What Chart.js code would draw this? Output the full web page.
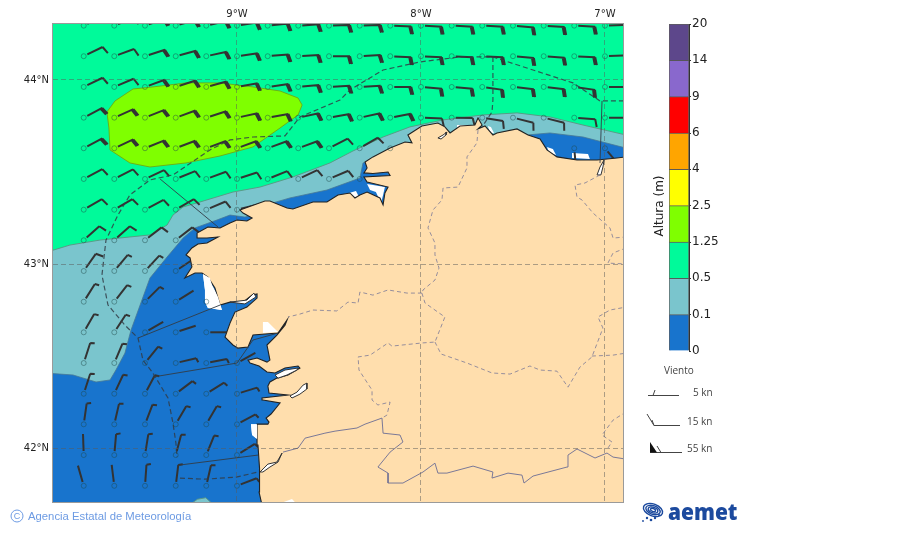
<!DOCTYPE html>
<html>
<head>
<meta charset="utf-8">
<title>Altura de ola</title>
<script src="https://cdn.jsdelivr.net/npm/chart.js@4"></script>
<style>
  html, body { margin: 0; padding: 0; background: #fff; overflow: hidden; }
  #map { position: absolute; left: 0; top: 0; }
  #bar { position: absolute; left: 640px; top: 10px; }
</style>
</head>
<body>
<canvas id="map" width="900" height="533"></canvas>
<canvas id="bar" width="100" height="360"></canvas>
<script>
// axis ticks
const lonTicks = [-9, -8, -7]
const latTicks = [42, 43, 44]

// colour bar
const bandTicks = ['0', '0.1', '0.5', '1.25', '2.5', '4', '6', '9', '14', '20']
const bandColors = ['#1874CD', '#7AC5CD', '#00FA9A', '#7FFF00', '#FFFF00', '#FFA500', '#FF0000', '#8968CD', '#5D478B']

// wave height areas, [lon, lat]
const areaHigh = [[-9.707,43.826],[-9.663,43.886],[-9.565,43.951],[-9.457,43.962],[-9.277,43.984],[-9.092,43.984],[-8.913,43.962],[-8.766,43.940],[-8.668,43.902],[-8.646,43.864],[-8.668,43.810],[-8.766,43.739],[-8.913,43.636],[-9.092,43.587],[-9.277,43.549],[-9.473,43.527],[-9.582,43.549],[-9.690,43.620],[-9.696,43.739]]
const areaTeal = [[-10.05,43.06],[-9.908,43.103],[-9.745,43.130],[-9.582,43.147],[-9.473,43.158],[-9.380,43.212],[-9.348,43.266],[-9.293,43.310],[-9.201,43.337],[-9.022,43.391],[-8.875,43.418],[-8.696,43.473],[-8.495,43.549],[-8.370,43.614],[-8.206,43.690],[-8.060,43.745],[-7.880,43.783],[-7.663,43.810],[-7.478,43.821],[-7.299,43.799],[-7.119,43.755],[-6.886,43.701],[-6.886,41.6],[-10.05,41.6]]
const areaTealSouth = [[-9.26,41.69],[-9.215,41.722],[-9.17,41.73],[-9.125,41.69]]
const areaBlue = [[-10.05,42.408],[-9.891,42.397],[-9.766,42.359],[-9.690,42.370],[-9.658,42.424],[-9.609,42.516],[-9.576,42.641],[-9.473,42.924],[-9.380,43.038],[-9.293,43.141],[-9.228,43.196],[-9.109,43.239],[-9.038,43.266],[-8.957,43.255],[-8.864,43.277],[-8.804,43.332],[-8.712,43.359],[-8.511,43.402],[-8.332,43.467],[-8.315,43.549],[-8.266,43.565],[-8.005,43.348],[-8.005,41.6],[-10.05,41.6]]
const areaBlueEast = [[-7.424,43.701],[-7.299,43.712],[-7.119,43.690],[-6.886,43.630],[-6.886,43.511],[-7.424,43.511]]

// coast, from the south end going north and then east
const land = [[-8.864,41.690],[-8.880,41.761],[-8.880,41.826],[-8.875,41.891],[-8.886,42.016],[-8.891,42.130],[-8.832,42.130],[-8.826,42.141],[-8.842,42.163],[-8.815,42.185],[-8.766,42.245],[-8.859,42.261],[-8.864,42.272],[-8.723,42.288],[-8.826,42.299],[-8.832,42.337],[-8.821,42.359],[-8.783,42.380],[-8.723,42.397],[-8.658,42.435],[-8.668,42.446],[-8.739,42.435],[-8.793,42.408],[-8.837,42.413],[-8.880,42.446],[-8.929,42.462],[-8.940,42.478],[-8.891,42.489],[-8.837,42.467],[-8.821,42.478],[-8.837,42.560],[-8.783,42.614],[-8.739,42.668],[-8.728,42.696],[-8.777,42.625],[-8.913,42.614],[-8.940,42.549],[-8.995,42.543],[-9.022,42.560],[-9.065,42.603],[-9.038,42.679],[-9.011,42.739],[-8.946,42.766],[-8.891,42.815],[-8.891,42.837],[-8.918,42.831],[-8.967,42.793],[-9.038,42.793],[-9.092,42.777],[-9.120,42.870],[-9.158,42.929],[-9.190,42.951],[-9.228,42.951],[-9.283,42.924],[-9.245,42.984],[-9.255,43.033],[-9.277,43.049],[-9.245,43.087],[-9.212,43.109],[-9.163,43.114],[-9.103,43.147],[-9.163,43.141],[-9.212,43.141],[-9.217,43.168],[-9.158,43.201],[-9.092,43.196],[-9.038,43.223],[-9,43.239],[-8.946,43.234],[-8.918,43.250],[-8.967,43.277],[-8.984,43.293],[-8.848,43.342],[-8.821,43.342],[-8.728,43.304],[-8.696,43.299],[-8.587,43.337],[-8.511,43.337],[-8.451,43.375],[-8.386,43.386],[-8.359,43.359],[-8.332,43.375],[-8.293,43.391],[-8.223,43.359],[-8.206,43.321],[-8.196,43.386],[-8.179,43.418],[-8.293,43.446],[-8.310,43.473],[-8.168,43.481],[-8.179,43.500],[-8.261,43.492],[-8.310,43.495],[-8.293,43.522],[-8.304,43.554],[-8.261,43.582],[-8.168,43.630],[-8.087,43.663],[-8.049,43.658],[-8.071,43.701],[-7.995,43.750],[-7.908,43.766],[-7.870,43.745],[-7.842,43.712],[-7.788,43.750],[-7.707,43.755],[-7.690,43.793],[-7.668,43.755],[-7.690,43.734],[-7.652,43.750],[-7.609,43.701],[-7.587,43.712],[-7.478,43.734],[-7.418,43.701],[-7.353,43.679],[-7.315,43.620],[-7.261,43.582],[-7.152,43.565],[-7.043,43.565],[-6.935,43.576],[-6.886,43.582],[-6.85,43.582],[-6.85,41.690]]

// no data patches along the coast
const blankPatches = [
  [[-9.185,42.946],[-9.147,42.924],[-9.136,42.886],[-9.103,42.821],[-9.082,42.750],[-9.158,42.761],[-9.174,42.793],[-9.174,42.859]],
  [[-8.924,42.130],[-8.891,42.130],[-8.891,42.049],[-8.918,42.071]],
  [[-8.859,42.685],[-8.832,42.685],[-8.777,42.630],[-8.859,42.625]],
  [[-7.315,43.636],[-7.283,43.625],[-7.266,43.592],[-7.304,43.603]],
  [[-7.179,43.603],[-7.092,43.598],[-7.082,43.571],[-7.174,43.576]],
  [[-8.391,43.386],[-8.353,43.397],[-8.337,43.364],[-8.370,43.364]],
  [[-7.967,43.750],[-7.935,43.745],[-7.929,43.728],[-7.967,43.728]],
  [[-7.804,43.755],[-7.750,43.755],[-7.750,43.739],[-7.799,43.734]],
  [[-7.636,43.750],[-7.620,43.745],[-7.603,43.712],[-7.625,43.712]],
  [[-8.293,43.435],[-8.196,43.418],[-8.206,43.375],[-8.217,43.332],[-8.245,43.391],[-8.277,43.402]],
  [[-8.766,41.70],[-8.701,41.723],[-8.679,41.70]]
]
const inletPatches = [
  [[-9.038,42.793],[-8.957,42.783],[-8.897,42.821],[-8.908,42.842],[-8.946,42.804]],
  [[-8.793,42.397],[-8.739,42.424],[-8.668,42.435],[-8.674,42.424],[-8.728,42.397],[-8.777,42.380]],
  [[-8.712,42.283],[-8.674,42.304],[-8.641,42.342],[-8.620,42.353],[-8.620,42.321],[-8.658,42.293],[-8.701,42.272]],
  [[-8.875,41.870],[-8.832,41.913],[-8.783,41.924],[-8.755,41.973],[-8.777,41.924],[-8.821,41.897],[-8.859,41.870]],
  [[-7.043,43.484],[-7.027,43.527],[-7.005,43.565],[-7.011,43.527],[-7.022,43.484]],
  [[-7.908,43.685],[-7.880,43.701],[-7.859,43.717],[-7.864,43.701],[-7.891,43.679]]
]

// land borders
const provinceLines = [
  [[-7.690,43.728],[-7.696,43.658],[-7.750,43.582],[-7.750,43.522],[-7.799,43.418],[-7.880,43.413],[-7.886,43.348],[-7.935,43.293],[-7.962,43.196],[-7.924,43.114],[-7.924,43.049],[-7.902,42.978],[-7.924,42.913],[-7.989,42.859],[-7.995,42.842]],
  [[-7.995,42.842],[-8.076,42.842],[-8.179,42.859],[-8.261,42.831],[-8.332,42.848],[-8.342,42.788],[-8.397,42.793],[-8.457,42.745],[-8.587,42.750],[-8.658,42.728],[-8.723,42.712]],
  [[-7.995,42.842],[-7.978,42.788],[-7.870,42.712],[-7.924,42.576],[-7.995,42.571],[-8.158,42.554],[-8.179,42.571],[-8.277,42.505],[-8.342,42.495],[-8.337,42.424],[-8.266,42.315],[-8.266,42.261],[-8.234,42.234],[-8.168,42.250],[-8.185,42.179],[-8.212,42.163]],
  [[-7.924,42.576],[-7.891,42.511],[-7.750,42.462],[-7.614,42.408],[-7.516,42.402],[-7.408,42.446],[-7.353,42.424],[-7.261,42.418],[-7.201,42.331],[-7.136,42.440],[-7.071,42.495],[-7.011,42.652],[-7.038,42.712],[-6.973,42.750],[-6.886,42.766]],
  [[-7.071,42.500],[-6.956,42.505],[-6.886,42.516]],
  [[-7.027,43.484],[-7.109,43.440],[-7.163,43.429],[-7.152,43.364],[-7.125,43.348],[-7.065,43.277],[-6.973,43.196],[-6.956,43.141],[-6.886,43.147]],
  [[-6.886,43.087],[-6.956,43.060],[-6.984,43.005],[-6.886,43.000]],
  [[-6.886,42.196],[-6.956,42.152],[-7.016,42.071],[-6.962,42.033],[-6.984,42.000]]
]
const portugalLine = [[-8.750,41.978],[-8.668,42.000],[-8.630,42.054],[-8.522,42.081],[-8.467,42.092],[-8.348,42.109],[-8.304,42.130],[-8.212,42.163],[-8.206,42.081],[-8.114,42.071],[-8.098,42.033],[-8.168,41.978],[-8.234,41.897],[-8.179,41.864],[-8.179,41.810],[-8.098,41.810],[-7.989,41.870],[-7.924,41.918],[-7.908,41.864],[-7.859,41.864],[-7.717,41.902],[-7.609,41.870],[-7.614,41.837],[-7.527,41.864],[-7.451,41.853],[-7.440,41.810],[-7.391,41.848],[-7.206,41.897],[-7.201,41.962],[-7.152,41.995],[-7.054,41.946],[-6.989,41.973],[-6.956,41.951],[-6.886,41.940]]

// sea zone limits
const zoneDashed = [
  [[-6.897,43.886],[-7.027,43.886],[-7.174,43.984],[-7.391,44.054],[-7.609,44.125],[-7.788,44.125],[-8.005,44.098],[-8.206,44.054],[-8.386,43.946],[-8.440,43.891],[-8.658,43.799],[-8.739,43.696],[-8.913,43.690],[-9.038,43.674],[-9.147,43.620],[-9.348,43.484],[-9.473,43.457],[-9.582,43.375],[-9.647,43.266],[-9.712,43.130],[-9.734,42.940],[-9.701,42.777],[-9.609,42.668],[-9.538,42.598],[-9.511,42.478],[-9.457,42.408],[-9.375,42.272],[-9.348,42.136],[-9.332,42.027],[-9.326,41.951]],
  [[-9.310,41.837],[-9.174,41.831],[-9.005,41.842],[-8.886,41.870]],
  [[-7.609,44.125],[-7.609,43.891],[-7.614,43.826],[-7.668,43.745]]
]
const zoneSolid = [
  [[-7.016,43.886],[-7.027,43.549]],
  [[-9.418,43.462],[-9.103,43.201]],
  [[-9.538,42.598],[-9.092,42.777]],
  [[-9.457,42.386],[-9,42.462],[-8.913,42.587],[-8.777,42.625]],
  [[-9.310,41.908],[-8.886,41.962]]
]

// wind grid. angle in degrees from east, speed in knots
// null angle: land, null speed: only the station circle
const windLons = [-9.833,-9.667,-9.5,-9.333,-9.167,-9,-8.833,-8.667,-8.5,-8.333,-8.167,-8,-7.833,-7.667,-7.5,-7.333,-7.167,-7]
const windLats = [44.295,44.129,43.962,43.795,43.629,43.462,43.295,43.129,42.962,42.795,42.629,42.462,42.295,42.129,41.962,41.795]
const _ = null
const windAngle = [
  [26,22,19,16,13,9,6,4,2,2,-2,-3,-3,-3,-5,-4,-3,2],
  [26,20,18,15,12,8,5,3,0,3,-3,-3,-3,-3,-5,-4,-3,2],
  [26,23,20,18,15,10,8,5,3,3,0,-5,-5,-8,-6,-6,-8,0],
  [28,24,22,20,18,12,10,12,10,12,11,-2,-1,-9,-14,-14,-4,0],
  [28,25,22,21,20,20,20,20,27,30,20,_,_,_,_,_,-85,-50],
  [28,27,25,22,20,18,22,25,23,20,_,_,_,_,_,_,_,_],
  [30,30,28,30,23,14,_,_,_,_,_,_,_,_,_,_,_,_],
  [42,42,38,38,_,_,_,_,_,_,_,_,_,_,_,_,_,_],
  [55,50,47,34,_,_,_,_,_,_,_,_,_,_,_,_,_,_],
  [58,52,45,32,20,_,_,_,_,_,_,_,_,_,_,_,_,_],
  [60,57,30,18,0,_,_,_,_,_,_,_,_,_,_,_,_,_],
  [72,67,51,13,11,29,_,_,_,_,_,_,_,_,_,_,_,_],
  [72,65,62,37,32,17,_,_,_,_,_,_,_,_,_,_,_,_],
  [82,77,69,60,60,28,_,_,_,_,_,_,_,_,_,_,_,_],
  [92,85,81,75,68,32,_,_,_,_,_,_,_,_,_,_,_,_],
  [106,97,86,83,77,21,_,_,_,_,_,_,_,_,_,_,_,_]
]
const windSpeed = [
  [10,10,15,15,15,15,15,15,15,15,15,15,15,15,15,15,15,15],
  [10,10,15,15,15,15,15,15,15,15,15,15,15,15,15,15,15,15],
  [10,10,15,15,15,15,15,15,15,15,15,15,15,15,15,15,15,15],
  [15,15,15,15,15,15,15,15,15,15,15,10,10,10,10,10,10,10],
  [15,15,15,15,15,15,15,15,10,10,_,_,_,_,_,_,0,0],
  [10,10,10,10,10,10,10,10,10,_,_,_,_,_,_,_,_,_],
  [10,10,10,10,10,0,_,_,_,_,_,_,_,_,_,_,_,_],
  [10,10,10,10,_,_,_,_,_,_,_,_,_,_,_,_,_,_],
  [10,5,5,0,_,_,_,_,_,_,_,_,_,_,_,_,_,_],
  [5,5,5,0,_,_,_,_,_,_,_,_,_,_,_,_,_,_],
  [5,5,0,0,0,_,_,_,_,_,_,_,_,_,_,_,_,_],
  [5,5,5,5,5,0,_,_,_,_,_,_,_,_,_,_,_,_],
  [5,5,5,5,5,5,_,_,_,_,_,_,_,_,_,_,_,_],
  [5,5,5,5,5,5,_,_,_,_,_,_,_,_,_,_,_,_],
  [0,5,5,5,5,5,_,_,_,_,_,_,_,_,_,_,_,_],
  [0,0,5,5,5,5,_,_,_,_,_,_,_,_,_,_,_,_]
]

const lonMin = -10, lonMax = -6.902, latMin = 41.707, latMax = 44.304

function toPoints(list){
    return list.concat([list[0]]).map(p => ({x: p[0], y: p[1]}))
}
function toLine(list){
    return list.map(p => ({x: p[0], y: p[1]}))
}

let datasets = []

function addArea(list, color, edge, width){
    datasets.push({
        data: toPoints(list), showLine: true, pointRadius: 0, tension: 0,
        fill: 'shape', backgroundColor: color, borderColor: edge, borderWidth: width
    })
}
function addLine(list, color, width, dash){
    datasets.push({
        data: toLine(list), showLine: true, pointRadius: 0, tension: 0,
        fill: false, borderColor: color, borderWidth: width, borderDash: dash
    })
}

// sea background is the 0.5 - 1.25 band
addArea([[lonMin-1,latMin-1],[lonMax+1,latMin-1],[lonMax+1,latMax+1],[lonMin-1,latMax+1]], bandColors[2], bandColors[2], 0)
addArea(areaHigh, bandColors[3], 'rgba(110,170,20,0.9)', 1)
addArea(areaTeal, bandColors[1], 'rgba(90,150,130,0.9)', 1)
addArea(areaBlue, bandColors[0], 'rgba(70,120,150,0.8)', 1)
addArea(areaTealSouth, bandColors[1], 'rgba(90,150,130,0.9)', 1)
addArea(areaBlueEast, bandColors[0], 'rgba(70,120,150,0.8)', 1)
blankPatches.forEach(p => addArea(p, '#fff', '#fff', 0))
// wind barbs go under the land, see windBarbs
const barbsAfter = datasets.length - 1
addArea(land, '#FFDEAD', '#222', 1.1)
blankPatches.slice(-1).forEach(p => addArea(p, '#fff', '#fff', 0))
inletPatches.forEach(p => addArea(p, '#fff', '#333', 1))
blankPatches.slice(0, 3).forEach(p => addArea(p, '#fff', '#fff', 0))
provinceLines.forEach(l => addLine(l, 'rgba(115,115,150,0.75)', 1, [4, 3]))
addLine(portugalLine, 'rgba(115,115,150,0.95)', 1, [])
zoneDashed.forEach(l => addLine(l, 'rgba(50,60,70,0.85)', 1.2, [5, 3]))
zoneSolid.forEach(l => addLine(l, 'rgba(50,60,70,0.9)', 1, []))

// station circles
let stations = []
windLats.forEach((lat, r) => {
    windLons.forEach((lon, c) => {
        if(windAngle[r][c] !== null){
            stations.push({x: lon, y: lat})
        }
    })
})
datasets.push({
    data: stations, showLine: false, pointRadius: 2.5, pointBorderWidth: 0.9,
    pointBackgroundColor: 'rgba(0,0,0,0)', pointBorderColor: 'rgba(30,70,70,0.5)'
})

// first dataset in the list goes at the bottom
datasets.forEach((d, i) => { d.order = datasets.length - i })

const windBarbs = {
    id: 'windBarbs',
    afterDatasetDraw(chart, args){
        if(args.index !== barbsAfter) return
        const { ctx, chartArea, scales } = chart
        ctx.save()
        ctx.beginPath()
        ctx.rect(chartArea.left, chartArea.top, chartArea.width, chartArea.height)
        ctx.clip()
        ctx.strokeStyle = '#333'
        ctx.lineWidth = 2
        ctx.lineCap = 'butt'
        windLats.forEach((lat, r) => {
            windLons.forEach((lon, c) => {
                const speed = windSpeed[r][c]
                if(windAngle[r][c] === null || speed === null) return
                const px = scales.x.getPixelForValue(lon)
                const py = scales.y.getPixelForValue(lat)
                const a = windAngle[r][c] * Math.PI / 180
                const ux = Math.cos(a), uy = -Math.sin(a)
                const endX = px + ux * 21, endY = py + uy * 21
                ctx.beginPath()
                ctx.moveTo(px + ux * 4, py + uy * 4)
                ctx.lineTo(endX, endY)
                const t = a - 75 * Math.PI / 180
                const tx = Math.cos(t), ty = -Math.sin(t)
                if(speed >= 5){
                    const len = speed === 5 ? 4.5 : 8
                    ctx.moveTo(endX, endY)
                    ctx.lineTo(endX + tx * len, endY + ty * len)
                }
                if(speed >= 15){
                    ctx.moveTo(endX - ux * 2, endY - uy * 2)
                    ctx.lineTo(endX - ux * 2 + tx * 8, endY - uy * 2 + ty * 8)
                }
                ctx.stroke()
            })
        })
        ctx.restore()
    }
}

function drawLogo(ctx){
    // aemet swirl
    ctx.save()
    ctx.strokeStyle = '#1C4A9E'
    ctx.fillStyle = '#1C4A9E'
    ctx.lineWidth = 1.4
    ctx.translate(653, 510)
    ctx.rotate(0.35)
    ;[[10, 6], [7.5, 4.3], [5, 2.8], [2.6, 1.4]].forEach(r => {
        ctx.beginPath()
        ctx.ellipse(0, 0, r[0], r[1], 0, 0, Math.PI * 2)
        ctx.stroke()
    })
    ctx.restore()
    ctx.fillStyle = '#1C4A9E'
    ;[[647,518,1.2],[651,520,1.3],[655,518,1.2],[643,521,0.9],[659,515,1]].forEach(d => {
        ctx.beginPath()
        ctx.arc(d[0], d[1], d[2], 0, Math.PI * 2)
        ctx.fill()
    })
    ctx.save()
    ctx.translate(668, 520)
    ctx.scale(0.91, 1)
    ctx.font = '800 23px "Open Sans"'
    ctx.textAlign = 'left'
    ctx.textBaseline = 'alphabetic'
    ctx.fillText('aemet', 0, 0)
    ctx.restore()
}

const mapExtras = {
    id: 'mapExtras',
    afterDraw(chart){
        const { ctx, chartArea } = chart
        ctx.save()
        // frame
        ctx.strokeStyle = '#9a9a9a'
        ctx.lineWidth = 1
        ctx.strokeRect(chartArea.left - 0.5, chartArea.top - 0.5, chartArea.width + 1, chartArea.height + 1)

        // colour bar title
        ctx.save()
        ctx.translate(660, 206)
        ctx.rotate(-Math.PI / 2)
        ctx.fillStyle = '#222'
        ctx.font = '12px "DejaVu Sans"'
        ctx.textAlign = 'center'
        ctx.textBaseline = 'middle'
        ctx.fillText('Altura (m)', 0, 0)
        ctx.restore()

        // wind key
        ctx.fillStyle = '#444'
        ctx.textBaseline = 'middle'
        ctx.textAlign = 'left'
        ctx.font = '10px "Open Sans"'
        ctx.fillText('Viento', 664, 371)
        ctx.fillText('5 kn', 693, 393)
        ctx.fillText('15 kn', 687, 422)
        ctx.fillText('55 kn', 687, 449)

        ctx.strokeStyle = '#444'
        ctx.lineWidth = 1
        ctx.beginPath()
        ctx.moveTo(648, 395.5); ctx.lineTo(679, 395.5)
        ctx.moveTo(653, 395.5); ctx.lineTo(655, 390)
        ctx.moveTo(647, 414); ctx.lineTo(654, 425.5); ctx.lineTo(680, 425.5)
        ctx.moveTo(652, 420); ctx.lineTo(654, 425.5)
        ctx.moveTo(650, 452.5); ctx.lineTo(682, 452.5)
        ctx.moveTo(657, 446); ctx.lineTo(661, 452.5)
        ctx.stroke()
        ctx.fillStyle = '#111'
        ctx.beginPath()
        ctx.moveTo(650, 442); ctx.lineTo(650, 452.5); ctx.lineTo(657, 452.5)
        ctx.closePath()
        ctx.fill()

        // credit
        ctx.strokeStyle = '#6D9BE3'
        ctx.fillStyle = '#6D9BE3'
        ctx.lineWidth = 1
        ctx.beginPath()
        ctx.arc(17, 516, 6, 0, Math.PI * 2)
        ctx.stroke()
        ctx.textAlign = 'center'
        ctx.font = '9px "Liberation Sans"'
        ctx.fillText('C', 17, 516.5)
        ctx.textAlign = 'left'
        ctx.font = '11.3px "Liberation Sans"'
        ctx.fillText('Agencia Estatal de Meteorología', 28, 516.5)

        drawLogo(ctx)
        ctx.restore()
    }
}

new Chart(document.getElementById('map'), {
    type: 'scatter',
    data: { datasets: datasets },
    plugins: [windBarbs, mapExtras],
    options: {
        responsive: false,
        animation: false,
        events: [],
        layout: { padding: { left: 0, top: 0, right: 277, bottom: 31 } },
        plugins: { legend: { display: false }, tooltip: { enabled: false } },
        scales: {
            x: {
                type: 'linear', position: 'top', min: lonMin, max: lonMax,
                afterBuildTicks: axis => { axis.ticks = lonTicks.map(v => ({value: v})) },
                afterFit: axis => { axis.height = 24 },
                ticks: {
                    autoSkip: false, maxRotation: 0, padding: 4, color: '#222',
                    font: { family: 'DejaVu Sans', size: 10 },
                    callback: v => Math.abs(v) + '°W'
                },
                border: { display: false, dash: [5, 3] },
                grid: { z: 1, drawTicks: false, color: 'rgba(90,90,90,0.5)', lineWidth: 1 }
            },
            y: {
                type: 'linear', position: 'left', min: latMin, max: latMax,
                afterBuildTicks: axis => { axis.ticks = latTicks.map(v => ({value: v})) },
                afterFit: axis => { axis.width = 53 },
                ticks: {
                    autoSkip: false, padding: 4, color: '#222',
                    font: { family: 'DejaVu Sans', size: 10 },
                    callback: v => v + '°N'
                },
                border: { display: false, dash: [5, 3] },
                grid: { z: 1, drawTicks: false, color: 'rgba(90,90,90,0.5)', lineWidth: 1 }
            }
        }
    }
})

// colour bar as one stacked bar, one dataset for each band
new Chart(document.getElementById('bar'), {
    type: 'bar',
    data: {
        labels: [''],
        datasets: bandColors.map(c => ({
            data: [1], backgroundColor: c, borderColor: 'rgba(40,40,40,0.75)', borderWidth: 1,
            categoryPercentage: 1, barPercentage: 1
        }))
    },
    options: {
        responsive: false,
        animation: false,
        events: [],
        layout: { padding: { left: 29, top: 14, right: 0, bottom: 19 } },
        plugins: { legend: { display: false }, tooltip: { enabled: false } },
        scales: {
            x: { stacked: true, display: false },
            y: {
                stacked: true, position: 'right', min: 0, max: bandColors.length,
                afterFit: axis => { axis.width = 51 },
                ticks: {
                    stepSize: 1, padding: 1, color: '#222',
                    font: { family: 'DejaVu Sans', size: 12 },
                    callback: v => bandTicks[v]
                },
                grid: { drawOnChartArea: false, tickLength: 2, color: '#333' },
                border: { color: '#333' }
            }
        }
    }
})
</script>
</body>
</html>
